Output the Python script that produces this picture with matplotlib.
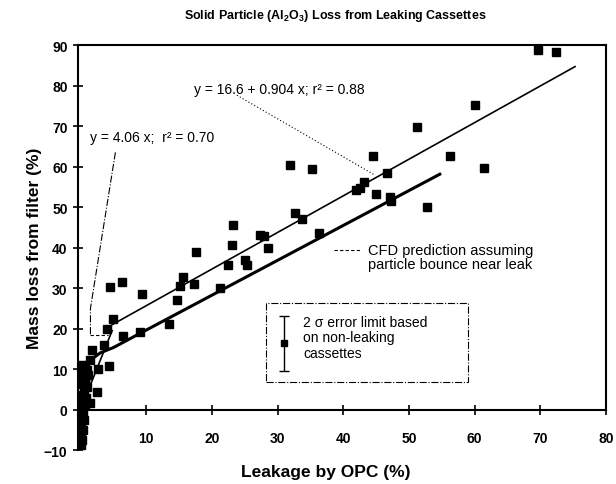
import numpy as np
import matplotlib
matplotlib.use("Agg")
import matplotlib.pyplot as plt
from matplotlib.patches import Rectangle

plt.rcParams['font.family'] = ['Liberation Sans', 'DejaVu Sans']
plt.rcParams['mathtext.fontset'] = 'custom'
plt.rcParams['mathtext.rm'] = 'Liberation Sans'
plt.rcParams['mathtext.bf'] = 'Liberation Sans:bold'

# --- measured cassettes (leakage by OPC %, mass loss %) ---
leak_x = [69.7, 72.4, 60.1, 51.2, 44.5, 56.3, 61.4, 46.6, 43.2, 42.0, 42.6, 45.0,
          47.1, 47.2, 52.8, 31.9, 35.2, 32.7, 33.7, 23.2, 36.3, 27.3, 27.9, 23.0,
          17.5, 28.6, 22.5, 25.1, 25.4, 15.6, 17.2, 15.2, 21.3, 14.7, 13.4, 4.5,
          6.3, 9.3, 5.0, 4.0, 6.5, 9.1, 3.6, 1.7, 4.3, 2.6, 2.5, 1.4]
loss_y = [88.7, 88.3, 75.3, 69.8, 62.5, 62.6, 59.7, 58.5, 56.2, 54.2, 54.6, 53.1,
          52.5, 51.6, 50.0, 60.3, 59.3, 48.6, 47.0, 45.5, 43.5, 43.0, 42.8, 40.7,
          38.9, 39.8, 35.6, 36.9, 35.8, 32.8, 30.9, 30.6, 29.9, 27.0, 21.2, 30.3,
          31.5, 28.4, 22.3, 20.0, 18.2, 19.2, 16.0, 14.6, 10.8, 10.0, 4.4, 1.5]

# non-leaking cassettes clustered near zero leakage
tight_x = [0.1, 0.2, 0.0, 0.3, 0.1, 0.5, 0.2, 0.4, 0.1, 0.6, 0.3, 0.8,
           0.2, 0.5, 1.0, 0.3, 0.7, 0.1, 1.2, 0.4, 0.9, 0.2, 1.5, 0.6]
tight_y = [-8.8, -7.5, -6.2, -5.0, -3.8, -2.5, -1.5, -0.5, 0.5, 1.2, 2.0, 2.8,
           3.5, 4.5, 5.5, 6.2, 7.0, 7.8, 8.5, 9.0, 9.8, 11.0, 12.2, 6.5]

# fit lines
fit_a, fit_b = 16.6, 0.904
fit_x = [4.8, 75.3]
steep_k = 4.06
steep_x = [0.0, 4.8]

# CFD prediction curve
cfd_x = [0.0, 0.2, 0.5, 1.0, 2.0, 3.0, 5.0, 8.0, 54.7]
cfd_y = [0.0, 4.0, 8.0, 10.5, 12.8, 14.0, 15.3, 17.9, 58.1]

# error limit glyph in the key box
err_x, err_y, err_lo, err_hi = 30.9, 16.3, 9.5, 23.1

fig = plt.figure(figsize=(6.16, 4.85), dpi=100)
ax = fig.add_axes([0.1266, 0.0701, 0.857, 0.835])

ax.plot(leak_x, loss_y, 's', color='black', markersize=5.5)
ax.plot(tight_x, tight_y, 's', color='black', markersize=5.5)

fx = np.array(fit_x)
ax.plot(fx, fit_a + fit_b * fx, color='black', lw=1.2)
sx = np.array(steep_x)
ax.plot(sx, steep_k * sx, color='black', lw=1.2)
ax.plot(cfd_x, cfd_y, color='black', lw=2.2)

# annotations
ax.text(17.3, 79.2, 'y = 16.6 + 0.904 x; r² = 0.88', fontsize=10, va='center')
ax.plot([23.8, 44.8], [77.6, 57.9], color='black', lw=0.8, ls=(0, (1, 2)))

ax.text(1.5, 67.4, 'y = 4.06 x;  r² = 0.70', fontsize=10, va='center')
ax.plot([5.3, 1.5, 1.5], [63.5, 25.0, 18.3], color='black', lw=0.8, ls='-.')
ax.plot([1.5, 4.2], [18.3, 18.3], color='black', lw=0.8, ls=(0, (3, 2)))

ax.plot([38.6, 42.6], [39.5, 39.5], color='black', lw=0.8, ls=(0, (3, 2)))
ax.text(43.8, 41.2, 'CFD prediction assuming\nparticle bounce near leak',
        fontsize=10.5, va='top', linespacing=1.0)

# key box
ax.add_patch(Rectangle((28.3, 6.9), 30.7, 19.3, fill=False, ec='black',
                       lw=0.8, ls='-.'))
ax.errorbar([err_x], [err_y], yerr=[[err_y - err_lo], [err_hi - err_y]],
            fmt='s', color='black', markersize=5, capsize=3.5, lw=1)
ax.text(33.9, 23.4, '2 σ error limit based\non non-leaking\ncassettes',
        fontsize=10, va='top', linespacing=1.15)

# axes styling
ax.set_xlim(-0.4, 80)
ax.set_ylim(-10, 90)
ax.spines['bottom'].set_position(('data', 0))
ax.spines['right'].set_bounds(0, 90)
for s in ax.spines.values():
    s.set_linewidth(1.5)
ax.set_xticks(np.arange(10, 81, 10))
ax.set_yticks(np.arange(-10, 91, 10))
ax.tick_params(axis='x', direction='inout', length=7, width=1.2, pad=12,
               labelsize=10)
ax.tick_params(axis='y', direction='inout', length=7, width=1.2, pad=4,
               labelsize=10)
for lab in ax.get_xticklabels() + ax.get_yticklabels():
    lab.set_fontweight('bold')

ax.set_xlabel('Leakage by OPC (%)', fontsize=12.5, fontweight='bold', labelpad=0)
ax.xaxis.set_label_coords(0.47, -0.035)
ax.set_ylabel('Mass loss from filter (%)', fontsize=12.5, fontweight='bold')
ax.yaxis.set_label_coords(-0.068, 0.5)

fig.text(0.545, 0.968, r'Solid Particle (Al$_\mathbf{2}$O$_\mathbf{3}$) Loss from Leaking Cassettes',
         ha='center', va='center', fontsize=9, fontweight='bold')

fig.savefig('out.png', dpi=100)
